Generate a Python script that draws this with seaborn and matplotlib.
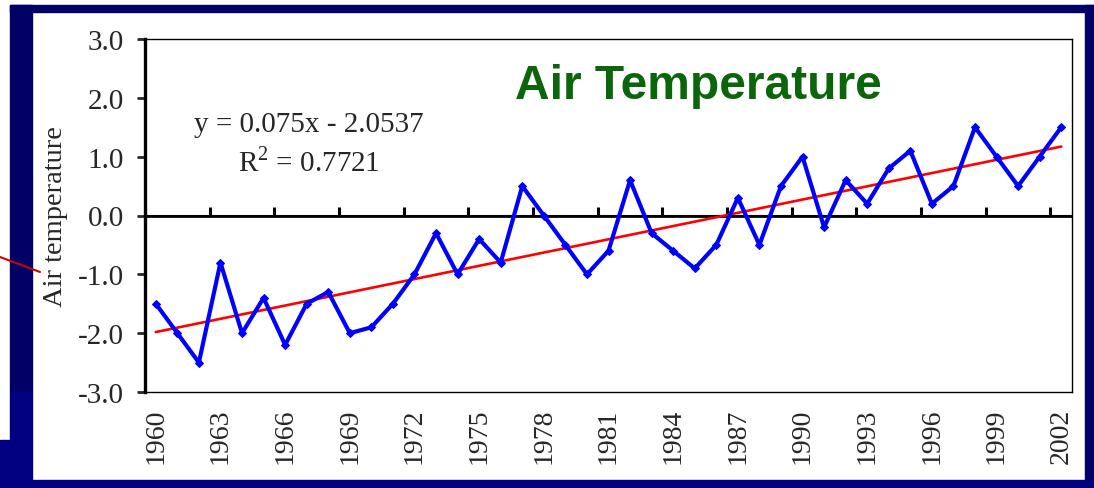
import numpy as np
import pandas as pd
import matplotlib
matplotlib.use("Agg")
import matplotlib.pyplot as plt
from matplotlib.patches import Rectangle
from matplotlib.lines import Line2D
import seaborn as sns

# yearly air temperature anomalies
years = list(range(1960, 2003))
temps = [-1.5, -2.0, -2.5, -0.8, -2.0, -1.4, -2.2, -1.5, -1.3, -2.0,
         -1.9, -1.5, -1.0, -0.3, -1.0, -0.4, -0.8, 0.5, 0.0, -0.5,
         -1.0, -0.6, 0.6, -0.3, -0.6, -0.9, -0.5, 0.3, -0.5, 0.5,
         1.0, -0.2, 0.6, 0.2, 0.8, 1.1, 0.2, 0.5, 1.5, 1.0,
         0.5, 1.0, 1.5]
year_labels = [str(y) for y in range(1960, 2003, 3)]
y_ticks = [-3.0, -2.0, -1.0, 0.0, 1.0, 2.0, 3.0]
y_labels = ["-3.0", "-2.0", "-1.0", "0.0", "1.0", "2.0", "3.0"]
title = "Air Temperature"
eq_text = "y = 0.075x - 2.0537"
r2_text = r"R$^2$ = 0.7721"

W, H = 1094, 489
NAVY = "#000066"
NAVY2 = "#000080"

sns.set_style("white")
plt.rcParams["font.family"] = ["Liberation Serif", "DejaVu Serif"]
plt.rcParams["mathtext.fontset"] = "custom"
plt.rcParams["mathtext.rm"] = "Liberation Serif"
plt.rcParams["axes.unicode_minus"] = False

df = pd.DataFrame({"year": years, "temp": temps})

fig = plt.figure(figsize=(W / 100, H / 100), dpi=100)
fig.patch.set_facecolor("white")


def box(x0, y0, x1, y1, color):
    # rectangle given in pixel coords (origin top-left)
    fig.patches.append(Rectangle((x0 / W, 1 - y1 / H), (x1 - x0) / W, (y1 - y0) / H,
                                 transform=fig.transFigure, color=color, zorder=0))


# slide frame around the chart
box(10, 6, W, 13, NAVY)
box(10, 6, 32, 393, NAVY)
box(10, 393, 32, 441, NAVY2)
box(0, 441, 32, H, NAVY2)
box(0, 481, W, H, NAVY2)
box(1085, 6, W, 481, NAVY)
fig.add_artist(Line2D([0, 40 / W], [1 - 258 / H, 1 - 273 / H], color="#cc0000",
                      lw=1.5, transform=fig.transFigure))

ax = fig.add_axes([145 / W, 1 - 393 / H, (1072 - 145) / W, (393 - 40) / H])
ax.set_facecolor("white")

ax.axhline(0, color="black", lw=2, zorder=1)
sns.regplot(data=df, x="year", y="temp", scatter=False, ci=None, ax=ax,
            line_kws={"color": "#ff0000", "lw": 1.9, "zorder": 3})
sns.lineplot(data=df, x="year", y="temp", ax=ax, color="#0000ff", lw=3,
             marker="D", markersize=4, markeredgecolor="#0000ff", zorder=4)

ax.set_xlim(1959.5, 2002.5)
ax.set_ylim(-3, 3)
ax.set_xticks(range(1960, 2003, 3))
ax.set_xticklabels(year_labels, rotation=90, fontsize=20)
ax.set_yticks(y_ticks)
ax.set_yticklabels(y_labels, fontsize=21)
ax.tick_params(axis="x", length=0, pad=11)
ax.tick_params(axis="y", length=6, width=2, pad=9, direction="out", left=True)
ax.set_xlabel("")
ax.set_ylabel("Air temperature", fontsize=20.5, labelpad=7)

for side in ["top", "right", "bottom"]:
    ax.spines[side].set_visible(True)
    ax.spines[side].set_color("black")
    ax.spines[side].set_linewidth(1.0)
ax.spines["left"].set_color("black")
ax.spines["left"].set_linewidth(2.4)

# category axis crossing at zero, ticks between every third year
zero_axis = ax.secondary_xaxis(0.5)
zero_axis.set_xticks(np.arange(1962.5, 2002, 3))
zero_axis.set_xticklabels([])
zero_axis.tick_params(axis="x", which="major", length=6, width=2.2,
                      direction="out", color="black")
zero_axis.spines["bottom"].set_visible(False)

ax.text(0.5966, 0.867, title, transform=ax.transAxes, ha="center", va="center",
        fontsize=34.5, fontweight="bold", color="#0b650b",
        family=["Liberation Sans", "DejaVu Sans"])
ax.text(0.177, 0.759, eq_text, transform=ax.transAxes, ha="center", va="center",
        fontsize=21)
ax.text(0.177, 0.654, r2_text, transform=ax.transAxes, ha="center", va="center",
        fontsize=21)

fig.savefig("out.png", dpi=100)
